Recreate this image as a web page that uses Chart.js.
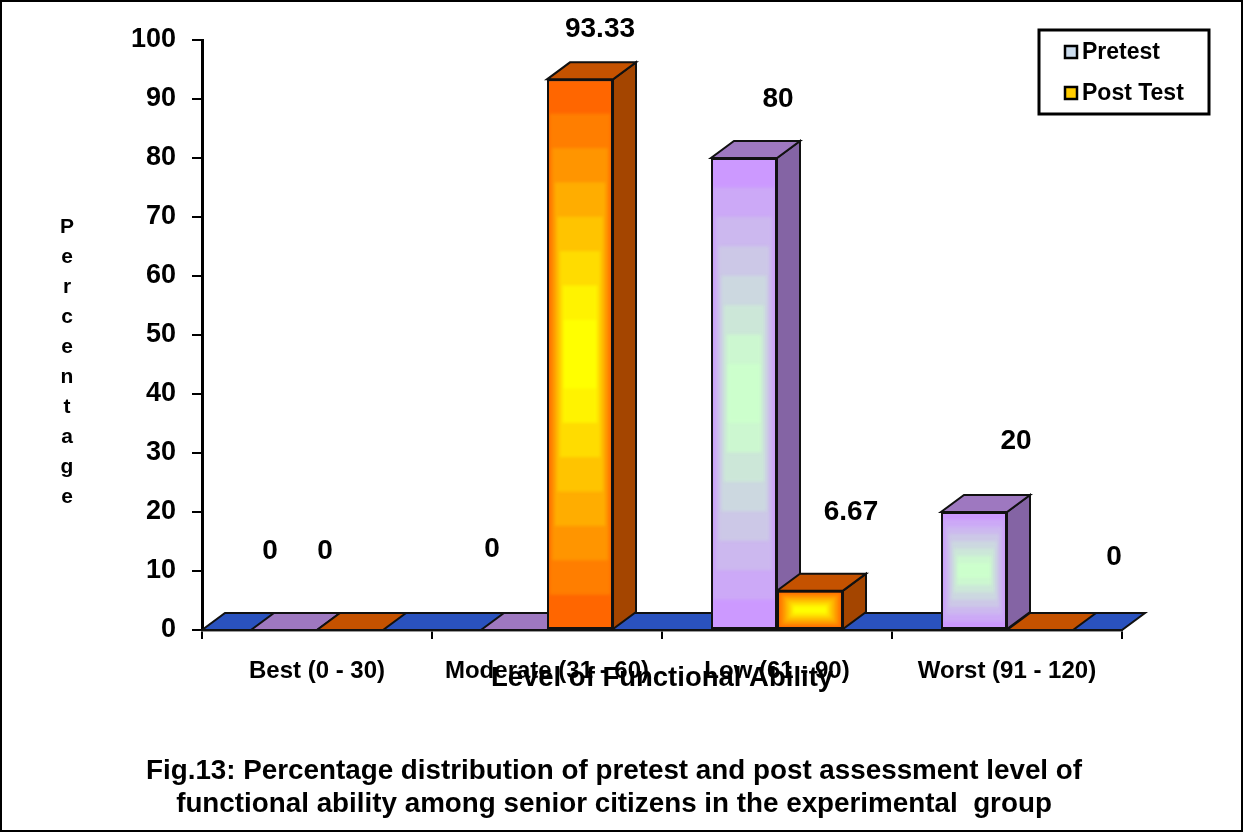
<!DOCTYPE html>
<html>
<head>
<meta charset="utf-8">
<title>Functional ability</title>
<script src="https://cdn.jsdelivr.net/npm/chart.js@4"></script>
<style>
  html, body { margin: 0; padding: 0; background: #fff; }
  #wrap { position: relative; width: 1247px; height: 834px; }
</style>
</head>
<body>
<div id="wrap"><canvas id="chart"></canvas></div>
<script>
const categories = ['Best (0 - 30)', 'Moderate (31 - 60)', 'Low (61 - 90)', 'Worst (91 - 120)'];
const pretest = [0, 0, 80, 20];
const postTest = [0, 93.33, 6.67, 0];
const yAxisLetters = ['P', 'e', 'r', 'c', 'e', 'n', 't', 'a', 'g', 'e'];
const xAxisTitle = 'Level of Functional Ability';
const caption = [
  'Fig.13: Percentage distribution of pretest and post assessment level of',
  'functional ability among senior citizens in the experimental  group',
];

const FONT = '"Liberation Sans", Arial, sans-serif';
const DEPTH_X = 23;
const DEPTH_Y = 17;
const STEPS = 8;

const styles = [
  { base: '#CC99FF', outer: [204, 153, 255], inner: [204, 255, 204], top: '#9E78C0', side: '#8464A4' },
  { base: '#FF6600', outer: [255, 102, 0], inner: [255, 255, 0], top: '#C55200', side: '#A44500' },
];

// hand placed value labels from the original, [dx, dy] from the top centre of each bar
const labelOffsets = [
  [[-14, -79], [-22, -81], [34, -59], [42, -71]],
  [[-25, -79], [20, -50], [41, -78], [74, -73]],
];

const mix = (a, b, t) => {
  const c = a.map((v, i) => Math.round(v + (b[i] - v) * t));
  return `rgb(${c[0]},${c[1]},${c[2]})`;
};

const face = (ctx, points, fill) => {
  ctx.beginPath();
  points.forEach(([x, y], i) => (i ? ctx.lineTo(x, y) : ctx.moveTo(x, y)));
  ctx.closePath();
  ctx.fillStyle = fill;
  ctx.fill();
  ctx.lineWidth = 2;
  ctx.strokeStyle = '#111';
  ctx.stroke();
};

/**
 * Floor, bar tops and bar sides, drawn behind the front faces
 */
const depthPlugin = {
  id: 'depth',
  beforeDatasetsDraw(chart) {
    const { ctx, chartArea: area } = chart;
    ctx.save();
    face(ctx, [
      [area.left, area.bottom],
      [area.right, area.bottom],
      [area.right + DEPTH_X, area.bottom - DEPTH_Y],
      [area.left + DEPTH_X, area.bottom - DEPTH_Y],
    ], '#2A52BE');

    // walk category by category so a later bar covers the side of the one before
    categories.forEach((_, index) => {
      styles.forEach((style, datasetIndex) => {
        const bar = chart.getDatasetMeta(datasetIndex).data[index];
        const { x, y, base, width } = bar.getProps(['x', 'y', 'base', 'width'], true);
        const left = x - width / 2;
        const right = x + width / 2;
        if (base - y > 0.5) {
          face(ctx, [
            [right, y],
            [right + DEPTH_X, y - DEPTH_Y],
            [right + DEPTH_X, base - DEPTH_Y],
            [right, base],
          ], style.side);
        }
        face(ctx, [
          [left, y],
          [right, y],
          [right + DEPTH_X, y - DEPTH_Y],
          [left + DEPTH_X, y - DEPTH_Y],
        ], style.top);
      });
    });
    ctx.restore();
  },
  afterDatasetsDraw(chart) {
    const { ctx } = chart;
    styles.forEach((style, datasetIndex) => {
      chart.getDatasetMeta(datasetIndex).data.forEach((bar) => {
        const { x, y, base, width } = bar.getProps(['x', 'y', 'base', 'width'], true);
        const height = base - y;
        if (height < 0.5) {
          return;
        }
        const left = x - width / 2;
        ctx.save();
        ctx.beginPath();
        ctx.rect(left + 2, y + 2, width - 4, height - 4);
        ctx.clip();
        ctx.filter = 'blur(1.5px)';
        for (let i = 0; i <= STEPS; i++) {
          const insetX = Math.min(i * 2.6, 17);
          const insetY = (height / 2) * (i / STEPS);
          ctx.fillStyle = mix(style.outer, style.inner, Math.min(1, i / 6.5));
          const pad = i === 0 ? 4 : 0;
          ctx.fillRect(left + insetX - pad, y + insetY - pad, width - insetX * 2 + pad * 2, height - insetY * 2 + pad * 2);
        }
        ctx.restore();
      });
    });
  },
};

/**
 * Everything the library has no slot for: value labels, stacked y title, caption, legend box, frame
 */
const textPlugin = {
  id: 'texts',
  afterDraw(chart) {
    const { ctx } = chart;
    ctx.save();
    ctx.fillStyle = '#000';
    ctx.textAlign = 'center';
    ctx.textBaseline = 'middle';

    ctx.font = `bold 28px ${FONT}`;
    chart.data.datasets.forEach((dataset, datasetIndex) => {
      chart.getDatasetMeta(datasetIndex).data.forEach((bar, index) => {
        const [dx, dy] = labelOffsets[datasetIndex][index];
        const { x, y } = bar.getProps(['x', 'y'], true);
        ctx.fillText(String(dataset.data[index]), x + dx, y + dy);
      });
    });

    ctx.font = `bold 21px ${FONT}`;
    yAxisLetters.forEach((letter, i) => {
      ctx.fillText(letter, 67, 227 + i * 30);
    });

    ctx.font = `bold 27.5px ${FONT}`;
    ctx.fillText(xAxisTitle, 662, 678);

    ctx.font = `bold 27.8px ${FONT}`;
    caption.forEach((line, i) => {
      ctx.fillText(line, 614, 771 + i * 33);
    });

    // legend
    ctx.lineWidth = 3;
    ctx.strokeStyle = '#000';
    ctx.strokeRect(1039, 30, 170, 84);
    ctx.textAlign = 'left';
    ctx.font = `bold 23px ${FONT}`;
    chart.data.datasets.forEach((dataset, i) => {
      const top = 46 + i * 41;
      ctx.fillStyle = i ? '#FFCC00' : '#CCDDEE';
      ctx.fillRect(1065, top, 12, 12);
      ctx.lineWidth = 2.5;
      ctx.strokeRect(1065, top, 12, 12);
      ctx.fillStyle = '#000';
      ctx.fillText(dataset.label, 1082, top + 7);
    });

    // frame
    ctx.lineWidth = 2;
    ctx.strokeRect(1, 1, 1241, 830);
    ctx.restore();
  },
};

new Chart(document.getElementById('chart'), {
  type: 'bar',
  data: {
    labels: categories,
    datasets: [
      { label: 'Pretest', data: pretest, backgroundColor: styles[0].base },
      { label: 'Post Test', data: postTest, backgroundColor: styles[1].base },
    ],
  },
  options: {
    responsive: true,
    maintainAspectRatio: false,
    animation: false,
    layout: { padding: { left: 0, top: 40, right: 125, bottom: 0 } },
    datasets: {
      bar: {
        categoryPercentage: 0.574,
        barPercentage: 1,
        borderColor: '#111',
        borderWidth: (ctx) => (ctx.raw ? 2.5 : 0),
        borderSkipped: false,
      },
    },
    plugins: {
      legend: { display: false },
      title: { display: false },
      tooltip: { enabled: false },
    },
    scales: {
      x: {
        afterFit(scale) { scale.height = 204; },
        grid: { drawOnChartArea: false, offset: true, color: '#000', lineWidth: 2, tickLength: 9 },
        border: { color: '#333', width: 2.5 },
        ticks: { color: '#000', font: { family: FONT, size: 24, weight: 'bold' }, padding: 18, maxRotation: 0, autoSkip: false },
      },
      y: {
        min: 0,
        max: 100,
        afterFit(scale) { scale.width = 202; },
        grid: { drawOnChartArea: false, color: '#000', lineWidth: 2, tickLength: 10 },
        border: { color: '#000', width: 3 },
        ticks: { stepSize: 10, color: '#000', font: { family: FONT, size: 27, weight: 'bold' }, padding: 16 },
      },
    },
  },
  plugins: [depthPlugin, textPlugin],
});
</script>
</body>
</html>
